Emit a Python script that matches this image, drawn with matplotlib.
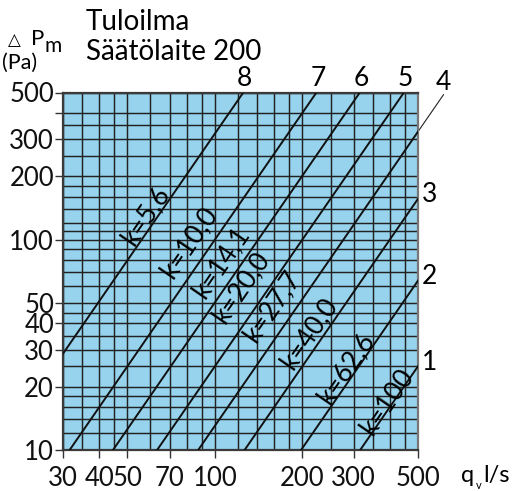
import numpy as np
import matplotlib.pyplot as plt

plt.rcParams['font.family'] = ['Lato', 'DejaVu Sans']

# pressure drop lines: dP = (q / k)^2
k_values = [5.6, 10.0, 14.1, 20.0, 27.7, 40.0, 62.6, 100.0]
k_labels = ["k=5,6", "k=10,0", "k=14,1", "k=20,0", "k=27,7", "k=40,0", "k=62,6", "k=100"]
line_numbers = ["8", "7", "6", "5", "4", "3", "2", "1"]

# where the k labels sit (q in l/s, dP in Pa)
label_q = [57.5, 81.5, 105, 123, 157, 210, 282, 393]
label_p = [130, 97, 78.3, 59.5, 48.3, 36.0, 24.5, 16.9]

x_grid = [30, 35, 40, 45, 50, 60, 70, 80, 90, 100, 120, 140, 160, 180, 200,
          250, 300, 350, 400, 450, 500]
y_grid = [10, 12, 14, 16, 18, 20, 25, 30, 35, 40, 45, 50, 60, 70, 80, 90, 100,
          110, 120, 140, 160, 180, 200, 250, 300, 350, 400, 500]
x_ticks = [30, 40, 50, 70, 100, 200, 300, 500]
y_ticks = [10, 20, 30, 40, 50, 100, 200, 300, 400, 500]
y_ticklabels = ["10", "20", "30", "40", "50", "100", "200", "300", "", "500"]

fig = plt.figure(figsize=(5.2, 4.91), dpi=100)
ax = fig.add_axes([63 / 520, 41 / 491, 355 / 520, 357.5 / 491])
ax.set_xscale('log')
ax.set_yscale('log')
ax.set_xlim(30, 500)
ax.set_ylim(10, 500)
ax.set_facecolor('#97d3ed')

for v in x_grid:
    ax.axvline(v, color='#222222', lw=1.05, zorder=1)
for v in y_grid:
    ax.axhline(v, color='#222222', lw=1.05, zorder=1)

p_lo, p_hi = 10, 500
for i, k in enumerate(k_values):
    q = np.array([k * np.sqrt(p_lo), k * np.sqrt(p_hi)])
    ax.plot(q, (q / k) ** 2, color='#111111', lw=1.4, zorder=3)
    ax.text(label_q[i], label_p[i], k_labels[i], rotation=55.4, rotation_mode='anchor',
            ha='center', va='center', fontsize=19, zorder=4)
    q_top = k * np.sqrt(p_hi)
    if q_top <= 500:
        ax.annotate(line_numbers[i], (q_top, p_hi), xytext=(1, 1), textcoords='offset points',
                    ha='center', va='bottom', fontsize=19, annotation_clip=False)
    elif line_numbers[i] == "4":
        # thin leader continuing the line out of the chart
        q_end = 612
        ax.plot([500, q_end], [(500 / k) ** 2, (q_end / k) ** 2], color='#222222',
                lw=0.8, clip_on=False)
        ax.annotate(line_numbers[i], (q_end, (q_end / k) ** 2), xytext=(0, 0),
                    textcoords='offset points', ha='center', va='bottom', fontsize=19,
                    annotation_clip=False)
    else:
        ax.annotate(line_numbers[i], (500, (500 / k) ** 2), xytext=(3, 3),
                    textcoords='offset points', ha='left', va='center', fontsize=19,
                    annotation_clip=False)

ax.xaxis.set_minor_locator(plt.NullLocator())
ax.yaxis.set_minor_locator(plt.NullLocator())
ax.set_xticks(x_ticks)
ax.set_xticklabels([str(v) for v in x_ticks])
ax.set_yticks(y_ticks)
ax.set_yticklabels(y_ticklabels)
ax.tick_params(axis='both', length=5.5, width=1.0, color='#333333', labelsize=18.5,
               labelcolor='#111111')
ax.tick_params(axis='x', pad=6)
ax.tick_params(axis='y', pad=1.0)

for side in ['left', 'bottom', 'top']:
    ax.spines[side].set_color('#3a3a3a')
    ax.spines[side].set_linewidth(1.6)
ax.spines['right'].set_color('#777777')
ax.spines['right'].set_linewidth(1.6)

# titles and axis captions
fig.text(86 / 520, 1 - 30 / 491, "Tuloilma", fontsize=20, va='baseline')
fig.text(86 / 520, 1 - 60 / 491, "Säätölaite 200", fontsize=20, va='baseline')
fig.text(8 / 520, 1 - 45 / 491, "△", fontsize=12, va='baseline', family='DejaVu Sans')
fig.text(31 / 520, 1 - 45 / 491, "P", fontsize=16, va='baseline')
fig.text(45 / 520, 1 - 52 / 491, "m", fontsize=15, va='baseline')
fig.text(2 / 520, 1 - 69 / 491, "(Pa)", fontsize=15.5, va='baseline')
fig.text(461 / 520, 1 - 482 / 491, "q", fontsize=17, va='baseline')
fig.text(476 / 520, 1 - 489 / 491, "v", fontsize=8, va='baseline')
fig.text(483 / 520, 1 - 482 / 491, "l/s", fontsize=17, va='baseline')

fig.savefig('out.png', dpi=100)
